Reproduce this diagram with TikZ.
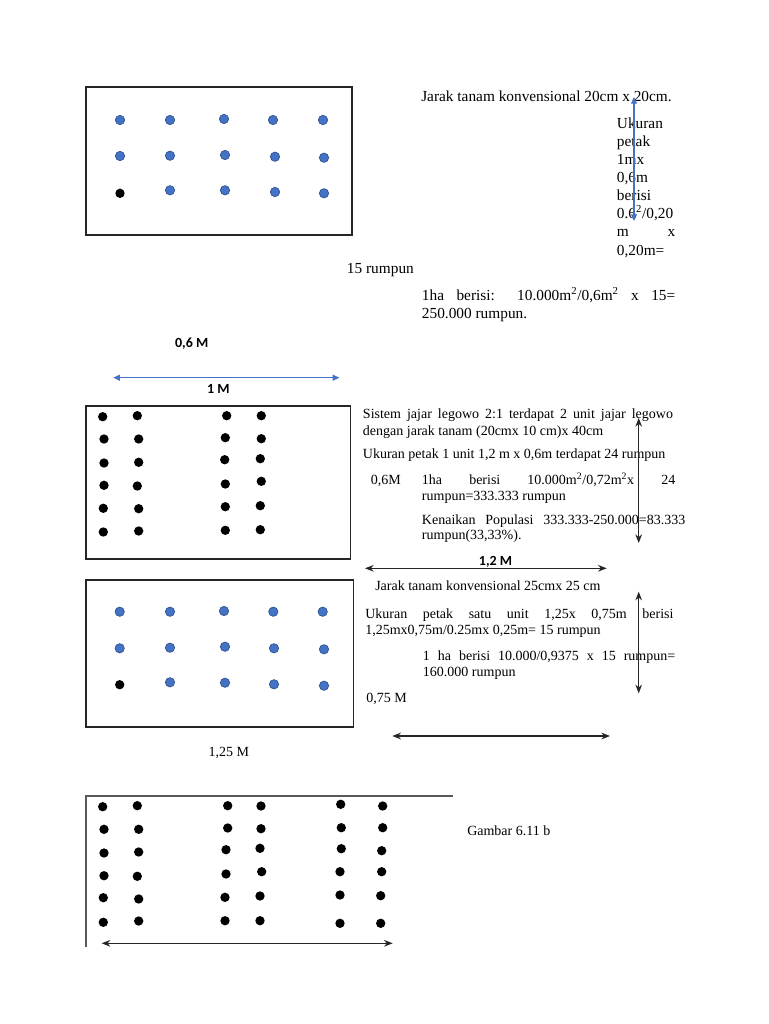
\documentclass[tikz,border=0pt]{standalone}
\usepackage{fontspec}
\setmainfont{Liberation Serif}
\newfontfamily\calib{Carlito}
\usetikzlibrary{arrows.meta}
\definecolor{dotblue}{HTML}{4472C4}
\definecolor{dotedge}{HTML}{2F528F}
\begin{document}
\begin{tikzpicture}[x=0.75pt,y=-0.75pt,
  bd/.style={circle,fill=dotblue,draw=dotedge,line width=0.5pt,minimum size=7pt,inner sep=0},
  kd/.style={circle,fill=black,minimum size=7pt,inner sep=0},
  txt/.style={inner sep=0,anchor=base west,font=\fontsize{11.5}{13.8}\selectfont},
  stxt/.style={inner sep=0,anchor=base west,font=\fontsize{10.5}{12.6}\selectfont},
  lbl/.style={inner sep=0,font=\calib\bfseries\fontsize{10.5}{12.6}\selectfont},
  boxline/.style={draw=black!85,line width=0.9pt},
  barrow/.style={draw=dotblue,line width=0.8pt,{Triangle[length=5pt,width=4.5pt]}-{Triangle[length=5pt,width=4.5pt]}},
  karrow/.style={draw=black!85,line width=0.8pt,{Stealth[length=6.5pt,width=5pt]}-{Stealth[length=6.5pt,width=5pt]}}]
\useasboundingbox (0,0) rectangle (768,1024);
\fill[white] (0,0) rectangle (768,1024);

% ---------- Box 1 ----------
\draw[boxline] (86,87) rectangle (352,235);
\foreach \px/\py [count=\i] in {120/120,170/120,224/119,273/120,323/120,
  120/156,170/155.7,225/155,275/156.7,324/157.7,
  170/190.3,225/190.3,275/192,324/193.3}
  \node[bd] (a\i) at (\px,\py) {};
\node[kd] (a0) at (120,193.3) {};

\node[txt] (t1) at (421,101) {Jarak tanam konvensional 20cm x 20cm.};
\node[txt] (c1) at (616.7,128.3) {Ukuran};
\node[txt] (c2) at (616.7,146.4) {petak};
\node[txt] (c3) at (616.7,164.5) {1mx};
\node[txt] (c4) at (616.7,182.6) {0,6m};
\node[txt] (c5) at (616.7,200.7) {berisi};
\node[txt] (c6) at (616.7,218.8) {0.6\textsuperscript{2}/0,20};
\node[txt] (c7) at (616.7,236.9) {\makebox[43.7pt][s]{m x}};
\node[txt] (c8) at (616.7,255) {0,20m=};
\coordinate (v1t) at (634,97);
\coordinate (v1b) at (634,221);
\draw[barrow] (v1t) -- (v1b);
\node[txt] (t2) at (346.7,273.3) {15 rumpun};
\node[txt] (t3) at (421.7,300) {\makebox[190pt][s]{1ha berisi: 10.000m\textsuperscript{2}/0,6m\textsuperscript{2} x 15=}};
\node[txt] (t4) at (421.7,318.3) {250.000 rumpun.};

\node[lbl] (l06) at (191.7,343.3) {0,6 M};
\coordinate (h1l) at (113.3,377.7);
\coordinate (h1r) at (339.3,377.7);
\draw[barrow] (h1l) -- (h1r);
\node[lbl] (l1) at (218.3,389.3) {1 M};

% ---------- Box 2 ----------
\draw[boxline] (86,406) rectangle (350.7,559);
\foreach \px/\py [count=\i] in {102.7/416.7,137.3/415.7,226.7/415.7,261.3/415.7,
  104/439,138.7/439,225.3/437.7,261.3/438.7,
  104/463,138.7/462.3,224.7/459.7,260.3/458.7,
  104/485.3,137.3/486,225.3/484,261.3/481.3,
  103.3/508.3,138.7/508.7,225.3/506.7,260.3/505.7,
  103.3/532,138.7/531,225.3/530.3,260.3/529.7}
  \node[kd] (b\i) at (\px,\py) {};

\node[stxt] (s1) at (362.7,418.3) {\makebox[232.5pt][s]{Sistem jajar legowo 2:1 terdapat 2 unit jajar legowo}};
\node[stxt] (s2) at (362.7,435) {dengan jarak tanam (20cmx 10 cm)x 40cm};
\node[stxt] (s3) at (362.7,458.3) {Ukuran petak 1 unit 1,2 m x 0,6m terdapat 24 rumpun};
\node[stxt] (s4) at (370.7,484.3) {0,6M};
\node[stxt] (s5) at (421.7,484.3) {\makebox[190pt][s]{1ha berisi 10.000m\textsuperscript{2}/0,72m\textsuperscript{2}x 24}};
\node[stxt] (s6) at (421.7,500.3) {rumpun=333.333 rumpun};
\node[stxt] (s7) at (421.7,524) {\makebox[197.5pt][s]{Kenaikan Populasi 333.333-250.000=83.333}};
\node[stxt] (s8) at (421.7,539.7) {rumpun(33,33\%).};
\coordinate (v2t) at (638.7,418);
\coordinate (v2b) at (638.7,543);
\draw[karrow] (v2t) -- (v2b);
\node[lbl] (l12) at (495.5,561.7) {1,2 M};
\coordinate (h2l) at (365,568.3);
\coordinate (h2r) at (606.7,568.3);
\draw[karrow] (h2l) -- (h2r);

% ---------- Box 3 ----------
\draw[boxline] (86,580) rectangle (353.3,727);
\foreach \px/\py [count=\i] in {119.7/611.7,170/611.7,224/611,273.3/611.7,322.7/611.7,
  119.7/648.3,170/647.7,225/646.7,274/648.3,324/649.3,
  170/682.3,225/682.7,274/684.3,324/685.7}
  \node[bd] (c\i) at (\px,\py) {};
\node[kd] (c0) at (119.7,684.7) {};
\node[stxt] (l125) at (208.3,756.7) {1,25 M};

\node[stxt] (u1) at (375,590.7) {Jarak tanam konvensional 25cmx 25 cm};
\node[stxt] (u2) at (365,618.3) {\makebox[231.2pt][s]{Ukuran petak satu unit 1,25x 0,75m berisi}};
\node[stxt] (u3) at (365,634) {1,25mx0,75m/0.25mx 0,25m= 15 rumpun};
\node[stxt] (u4) at (422.7,660.7) {\makebox[189.2pt][s]{1 ha berisi 10.000/0,9375 x 15 rumpun=}};
\node[stxt] (u5) at (422.7,676.7) {160.000 rumpun};
\node[stxt] (u6) at (366,702.7) {0,75 M};
\coordinate (v3t) at (638.7,591.7);
\coordinate (v3b) at (638.7,693.3);
\draw[karrow] (v3t) -- (v3b);
\coordinate (h3l) at (392.3,736);
\coordinate (h3r) at (610,736);
\draw[karrow] (h3l) -- (h3r);

% ---------- Box 4 ----------
\coordinate (k4tl) at (86,796);
\coordinate (k4tr) at (453,796);
\coordinate (k4bl) at (86,947);
\draw[draw=black!65,line width=0.9pt] (k4tr) -- (k4tl) -- (k4bl);
\foreach \px/\py [count=\i] in {102.7/806.7,137.3/805.7,227.7/805.7,261/806,340.7/804.3,382.7/806,
  104/829.3,138.7/829.3,227.7/828,261/828.7,341.3/827.7,382.7/827.7,
  104/853,138.7/852,226/849.7,260/848.3,341.3/848.7,381.7/850.7,
  104/875.7,137.3/876.3,226/874,261.7/871.7,340/871.7,381.7/871.7,
  103.3/897.7,138.7/899,225/897.3,260/896,340/895,380.7/895.7,
  103.3/922.3,138.7/921,225/920.7,260/920.7,340/923.3,380.7/923.3}
  \node[kd] (d\i) at (\px,\py) {};
\coordinate (h4l) at (101.7,943.3);
\coordinate (h4r) at (392.7,943.3);
\draw[karrow] (h4l) -- (h4r);
\node[stxt] (g1) at (467,835) {Gambar 6.11 b};
\end{tikzpicture}
\end{document}
